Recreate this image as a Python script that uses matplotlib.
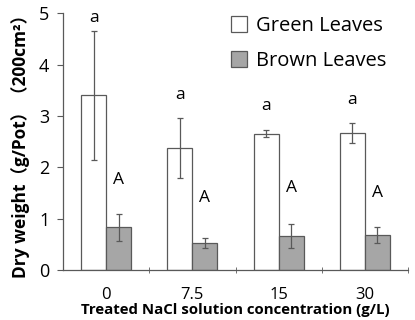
import matplotlib.pyplot as plt
import numpy as np

# treatment levels and dry weight (mean, error) per leaf type
categories = ['0', '7.5', '15', '30']
green = [3.40, 2.37, 2.65, 2.67]
green_err = [1.25, 0.58, 0.07, 0.19]
brown = [0.83, 0.52, 0.66, 0.68]
brown_err = [0.27, 0.10, 0.23, 0.15]
green_sig = ['a', 'a', 'a', 'a']
brown_sig = ['A', 'A', 'A', 'A']
green_sig_y = [4.9, 3.4, 3.2, 3.3]
brown_sig_y = [1.75, 1.4, 1.6, 1.5]

plt.rcParams['font.family'] = ['Open Sans', 'Noto Sans CJK SC', 'DejaVu Sans']

fig = plt.figure(figsize=(4.15, 3.2), dpi=100)
ax = fig.add_axes([0.152, 0.156, 0.831, 0.803])

x = np.arange(len(categories))
w = 0.29
edge = '#595959'
ax.bar(x - w / 2, green, w, color='white', edgecolor=edge, linewidth=0.9,
       label='Green Leaves', zorder=2)
ax.bar(x + w / 2, brown, w, color='#a6a6a6', edgecolor=edge, linewidth=0.9,
       label='Brown Leaves', zorder=2)
ax.errorbar(x - w / 2, green, yerr=green_err, fmt='none', ecolor=edge,
            elinewidth=0.9, capsize=2.5, capthick=0.9, zorder=3)
ax.errorbar(x + w / 2, brown, yerr=brown_err, fmt='none', ecolor=edge,
            elinewidth=0.9, capsize=2.5, capthick=0.9, zorder=3)

for i in range(len(categories)):
    ax.text(x[i] - w / 2, green_sig_y[i], green_sig[i], ha='center',
            va='center', fontsize=12.5)
    ax.text(x[i] + w / 2, brown_sig_y[i], brown_sig[i], ha='center',
            va='center', fontsize=12.5)

ax.set_xlim(-0.5, len(categories) - 0.5)
ax.set_ylim(0, 5)
ax.set_yticks(range(6))
ax.set_xticks(x)
ax.set_xticklabels(categories, fontsize=12)
ax.set_xticks(np.arange(len(categories)) + 0.5, minor=True)
ax.tick_params(axis='x', which='major', length=0, pad=12)
ax.tick_params(axis='x', which='minor', length=5, direction='inout',
               color=edge)
ax.tick_params(axis='y', labelsize=13, length=4, color=edge, direction='out',
               pad=6)

for s in ['top', 'right']:
    ax.spines[s].set_visible(False)
for s in ['left', 'bottom']:
    ax.spines[s].set_color(edge)
    ax.spines[s].set_linewidth(0.9)

ax.set_xlabel('Treated NaCl solution concentration (g/L)', fontsize=10.8,
              fontweight='bold', labelpad=0)
ax.set_ylabel('Dry weight（g/Pot）（200cm²）', fontsize=12.5,
              fontweight='bold', labelpad=6)

ax.legend(loc='upper right', frameon=False, fontsize=14.5, handlelength=0.8,
          handleheight=0.8, handletextpad=0.45, labelspacing=0.75,
          bbox_to_anchor=(0.99, 1.06))

plt.savefig('out.png', dpi=100)
